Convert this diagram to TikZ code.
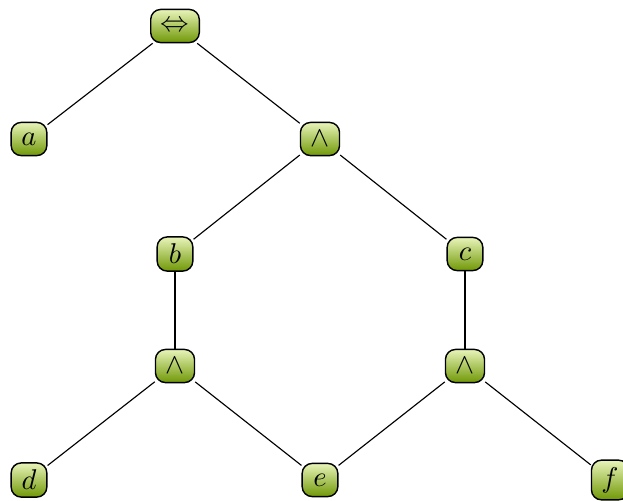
\documentclass[tikz,border=0pt]{standalone}
\begin{document}
\begin{tikzpicture}[x=0.35pt,y=-0.35pt,
  tnode/.style={draw=black, line width=0.5pt, rounded corners=3.5pt,
    top color={rgb,255:red,232;green,244;blue,185},
    bottom color={rgb,255:red,112;green,152;blue,6},
    inner xsep=3.5pt, inner ysep=2.5pt, minimum width=12.5pt, minimum height=11.6pt},
  tedge/.style={draw=black, line width=0.4pt}]
  \useasboundingbox (0,0) rectangle (623,500);
  \node[tnode] (root) at (175,26)  {$\Leftrightarrow$};
  \node[tnode] (a)    at (29,139)  {$a$};
  \node[tnode] (and1) at (320,139) {$\wedge$};
  \node[tnode] (b)    at (175,254) {$b$};
  \node[tnode] (c)    at (465,254) {$c$};
  \node[tnode] (and2) at (175,366) {$\wedge$};
  \node[tnode] (and3) at (465,366) {$\wedge$};
  \node[tnode] (d)    at (29,480)  {$d$};
  \node[tnode] (e)    at (320,480) {$e$};
  \node[tnode] (f)    at (610,480) {$f$};
  \draw[tedge] (root) -- (a);
  \draw[tedge] (root) -- (and1);
  \draw[tedge] (and1) -- (b);
  \draw[tedge] (and1) -- (c);
  \draw[tedge] (b) -- (and2);
  \draw[tedge] (c) -- (and3);
  \draw[tedge] (and2) -- (d);
  \draw[tedge] (and2) -- (e);
  \draw[tedge] (and3) -- (e);
  \draw[tedge] (and3) -- (f);
\end{tikzpicture}
\end{document}
